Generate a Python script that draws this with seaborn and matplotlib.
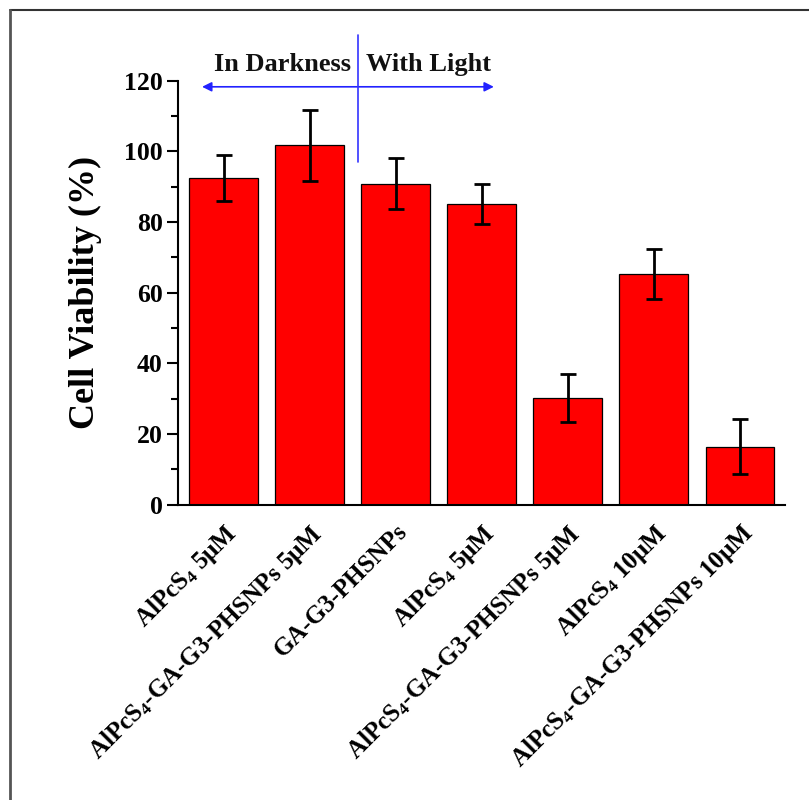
import matplotlib
matplotlib.use("Agg")
import matplotlib.pyplot as plt
from matplotlib.lines import Line2D
from matplotlib.ticker import MultipleLocator
import seaborn as sns
import pandas as pd
import numpy as np

categories = [
    r"AlPcS$_4$ 5μM",
    r"AlPcS$_4$-GA-G3-PHSNPs 5μM",
    "GA-G3-PHSNPs",
    r"AlPcS$_4$ 5μM ",
    r"AlPcS$_4$-GA-G3-PHSNPs 5μM ",
    r"AlPcS$_4$ 10μM",
    r"AlPcS$_4$-GA-G3-PHSNPs 10μM",
]
viability = [92.5, 101.7, 90.9, 85.2, 30.2, 65.4, 16.5]
errors = [6.6, 10.0, 7.2, 5.6, 6.8, 7.1, 7.9]
y_ticks = [0, 20, 40, 60, 80, 100, 120]

sns.set_theme(style="ticks")
plt.rcParams["font.family"] = ["Liberation Serif", "DejaVu Serif"]
plt.rcParams["font.weight"] = "bold"
plt.rcParams["mathtext.fontset"] = "custom"
plt.rcParams["mathtext.rm"] = "Liberation Serif:bold"
plt.rcParams["mathtext.it"] = "Liberation Serif:bold"
plt.rcParams["mathtext.bf"] = "Liberation Serif:bold"
for k in ["text.color", "axes.labelcolor", "xtick.color", "ytick.color"]:
    plt.rcParams[k] = "black"

df = pd.DataFrame({"group": categories, "viability": viability, "err": errors})

fig = plt.figure(figsize=(8.09, 8.0), dpi=100)
ax = fig.add_axes([0.22, 0.369, 0.750, 0.530])

sns.barplot(data=df, x="group", y="viability", color="#ff0000", saturation=1,
            edgecolor="black", linewidth=0.9, width=0.80, errorbar=None, ax=ax)
xs = np.arange(len(categories))
ax.errorbar(xs, df["viability"], yerr=df["err"], fmt="none", ecolor="black",
            elinewidth=2, capsize=6, capthick=2, zorder=5)

ax.set_xlim(-0.53, 6.52)
ax.set_ylim(0, 120)
ax.set_yticks(y_ticks)
ax.yaxis.set_minor_locator(MultipleLocator(10))
ax.set_xlabel("")
ax.set_ylabel("Cell Viability (%)", fontsize=26, fontweight="bold", labelpad=16)

ax.tick_params(axis="y", which="major", direction="out", length=8, width=1.5,
               labelsize=18.5, pad=3)
ax.tick_params(axis="y", which="minor", direction="out", length=5, width=1.5)
ax.tick_params(axis="x", which="major", direction="in", length=4, width=1.2,
               labelsize=18, pad=11)
for lab in ax.get_xticklabels():
    lab.set_rotation(45)
    lab.set_ha("right")
    lab.set_rotation_mode("anchor")
    lab.set_fontweight("bold")
for lab in ax.get_yticklabels():
    lab.set_fontweight("bold")

for s in ["top", "right"]:
    ax.spines[s].set_visible(False)
for s in ["left", "bottom"]:
    ax.spines[s].set_linewidth(1.5)
    ax.spines[s].set_color("black")

# annotation: darkness / light
ax.plot([1.56, 1.56], [97, 133], color="#3333ff", lw=1.2, clip_on=False, zorder=6)
ax.annotate("", xy=(-0.25, 118.3), xytext=(3.14, 118.3),
            arrowprops=dict(arrowstyle="<|-|>", color="#2222ff", lw=1.2,
                            mutation_scale=14, shrinkA=0, shrinkB=0),
            annotation_clip=False)
ax.text(1.48, 124.5, "In Darkness", ha="right", va="center", fontsize=19,
        fontweight="bold", color="#111111")
ax.text(1.66, 124.5, "With Light", ha="left", va="center", fontsize=19,
        fontweight="bold", color="#111111")

# frame lines of the figure
fig.add_artist(Line2D([10 / 809, 1.0], [1 - 10 / 800, 1 - 10 / 800],
                      transform=fig.transFigure, color="#333333", lw=1.5))
fig.add_artist(Line2D([10 / 809, 10 / 809], [0, 1 - 10 / 800],
                      transform=fig.transFigure, color="#555555", lw=2))

fig.savefig("out.png", dpi=100)
